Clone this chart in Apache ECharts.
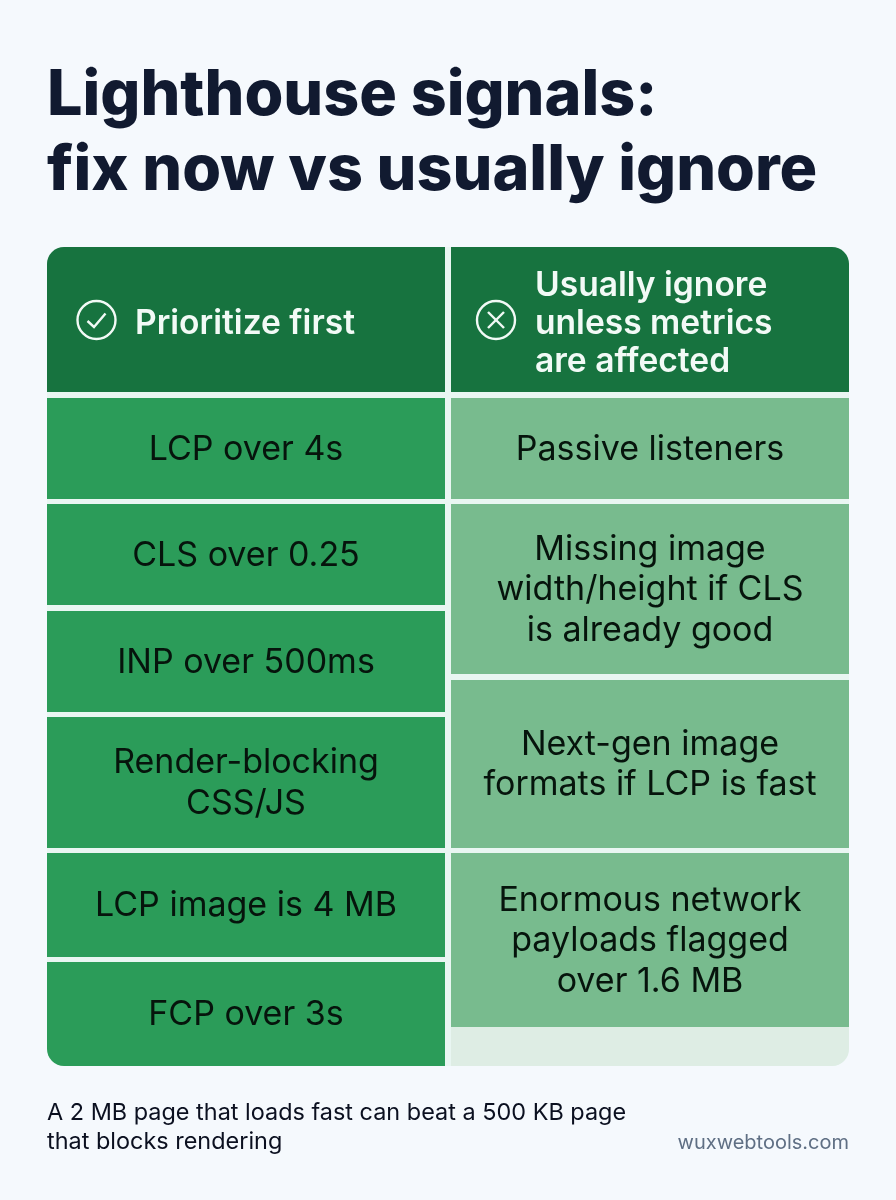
<!DOCTYPE html>
<html>
<head>
<meta charset="utf-8">
<style>
html, body { margin: 0; padding: 0; background: #f5f9fd; }
#main { width: 896px; height: 1200px; }
</style>
<script src="https://cdn.jsdelivr.net/npm/echarts@6/dist/echarts.min.js"></script>
</head>
<body>
<div id="main"></div>
<script>
var titleText = 'Lighthouse signals:\nfix now vs usually ignore';
var footnote = 'A 2 MB page that loads fast can beat a 500 KB page\nthat blocks rendering';
var credit = 'wuxwebtools.com';

var headers = ['Prioritize first', 'Usually ignore\nunless metrics\nare affected'];
var fixFirst = ['LCP over 4s', 'CLS over 0.25', 'INP over 500ms', 'Render-blocking\nCSS/JS', 'LCP image is 4 MB', 'FCP over 3s'];
var ignore = ['Passive listeners', 'Missing image\nwidth/height if CLS\nis already good', 'Next-gen image\nformats if LCP is fast', 'Enormous network\npayloads flagged\nover 1.6 MB'];

// layout, in page pixels
var leftCol = [47, 445];
var rightCol = [451, 849];
var headerRow = [247, 392];
var fixRows = [[398, 499], [504, 605], [611, 712], [717, 848], [853, 957], [962, 1066]];
var ignoreRows = [[398, 499], [504, 674], [680, 848], [853, 1027]];
var emptyRow = [1027, 1066];

var font = 'Inter, "Noto Sans", sans-serif';
var colors = { header: '#17733f', fix: '#2b9c59', ignore: '#78bb8e', empty: '#deede4', gap: '#e9f6f2' };
var R = 17;

// [x0, y0, x1, y1, label, kind, corners]
var cells = [];
cells.push([leftCol[0], headerRow[0], leftCol[1], headerRow[1], headers[0], 'header', [R, 0, 0, 0]]);
cells.push([rightCol[0], headerRow[0], rightCol[1], headerRow[1], headers[1], 'header', [0, R, 0, 0]]);
fixFirst.forEach(function (label, i) {
    var last = i === fixFirst.length - 1;
    cells.push([leftCol[0], fixRows[i][0], leftCol[1], fixRows[i][1], label, 'fix', last ? [0, 0, 0, R] : 0]);
});
ignore.forEach(function (label, i) {
    cells.push([rightCol[0], ignoreRows[i][0], rightCol[1], ignoreRows[i][1], label, 'ignore', 0]);
});
cells.push([rightCol[0], emptyRow[0], rightCol[1], emptyRow[1], '', 'empty', [0, 0, R, 0]]);

function renderCell(params, api) {
    var d = cells[params.dataIndex];
    var p0 = api.coord([d[0], d[1]]);
    var p1 = api.coord([d[2], d[3]]);
    var kind = d[5];
    var cx = (p0[0] + p1[0]) / 2;
    var cy = (p0[1] + p1[1]) / 2;
    var children = [{
        type: 'rect',
        shape: { x: p0[0], y: p0[1], width: p1[0] - p0[0], height: p1[1] - p0[1], r: d[6] },
        style: { fill: colors[kind] }
    }];
    if (kind === 'header') {
        var isLeft = d[0] === leftCol[0];
        var ix = p0[0] + (isLeft ? 49.5 : 45);
        var iy = cy + 0.5;
        children.push({
            type: 'circle',
            shape: { cx: ix, cy: iy, r: 19 },
            style: { fill: 'none', stroke: '#f2faf6', lineWidth: 2.4 }
        });
        if (isLeft) {
            children.push({
                type: 'polyline',
                shape: { points: [[ix - 9, iy + 1], [ix - 2.5, iy + 7], [ix + 9, iy - 6.5]] },
                style: { fill: 'none', stroke: '#f2faf6', lineWidth: 2.4 }
            });
        } else {
            children.push({
                type: 'line', shape: { x1: ix - 8, y1: iy - 8, x2: ix + 8, y2: iy + 8 },
                style: { stroke: '#f2faf6', lineWidth: 2.4 }
            }, {
                type: 'line', shape: { x1: ix + 8, y1: iy - 8, x2: ix - 8, y2: iy + 8 },
                style: { stroke: '#f2faf6', lineWidth: 2.4 }
            });
        }
        children.push({
            type: 'text',
            style: {
                x: p0[0] + (isLeft ? 88 : 84), y: cy + 4, text: d[4], align: 'left', verticalAlign: 'middle',
                fontFamily: font, fontSize: 33.6, fontWeight: 600, lineHeight: 38, fill: '#f2faf6'
            }
        });
    } else if (d[4]) {
        children.push({
            type: 'text',
            style: {
                x: cx, y: cy + 1, text: d[4], align: 'center', verticalAlign: 'middle',
                fontFamily: font, fontSize: 34, fontWeight: 400, lineHeight: 40.5, fill: '#06140c'
            }
        });
    }
    return { type: 'group', children: children };
}

var chart = echarts.init(document.getElementById('main'));
chart.setOption({
    animation: false,
    backgroundColor: '#f5f9fd',
    grid: { left: 0, top: 0, width: 896, height: 1200 },
    xAxis: { type: 'value', min: 0, max: 896, show: false },
    yAxis: { type: 'value', min: 0, max: 1200, inverse: true, show: false },
    title: [
        {
            text: titleText, left: 47, top: 59,
            padding: 0,
            textStyle: { fontFamily: font, fontSize: 62.8, fontWeight: 800, lineHeight: 75, color: '#111a30' }
        },
        {
            text: footnote, left: 47, top: 1098,
            padding: 0,
            textStyle: { fontFamily: font, fontSize: 23.45, fontWeight: 400, lineHeight: 29, color: '#0b1020' }
        },
        {
            text: credit, right: 47, top: 1133,
            padding: 0,
            textStyle: { fontFamily: font, fontSize: 20, fontWeight: 400, color: '#5f6f84' }
        }
    ],
    series: [
        {
            // gap lines between the cells
            type: 'custom',
            silent: true,
            data: [[leftCol[0], headerRow[0], rightCol[1], emptyRow[1]]],
            encode: { x: [0, 2], y: [1, 3] },
            renderItem: function (params, api) {
                var p0 = api.coord([api.value(0), api.value(1)]);
                var p1 = api.coord([api.value(2), api.value(3)]);
                return {
                    type: 'rect',
                    shape: { x: p0[0], y: p0[1], width: p1[0] - p0[0], height: p1[1] - p0[1], r: R },
                    style: { fill: colors.gap }
                };
            }
        },
        {
            type: 'custom',
            silent: true,
            data: cells.map(function (c) { return c.slice(0, 4); }),
            encode: { x: [0, 2], y: [1, 3] },
            renderItem: renderCell
        }
    ]
});
</script>
</body>
</html>
